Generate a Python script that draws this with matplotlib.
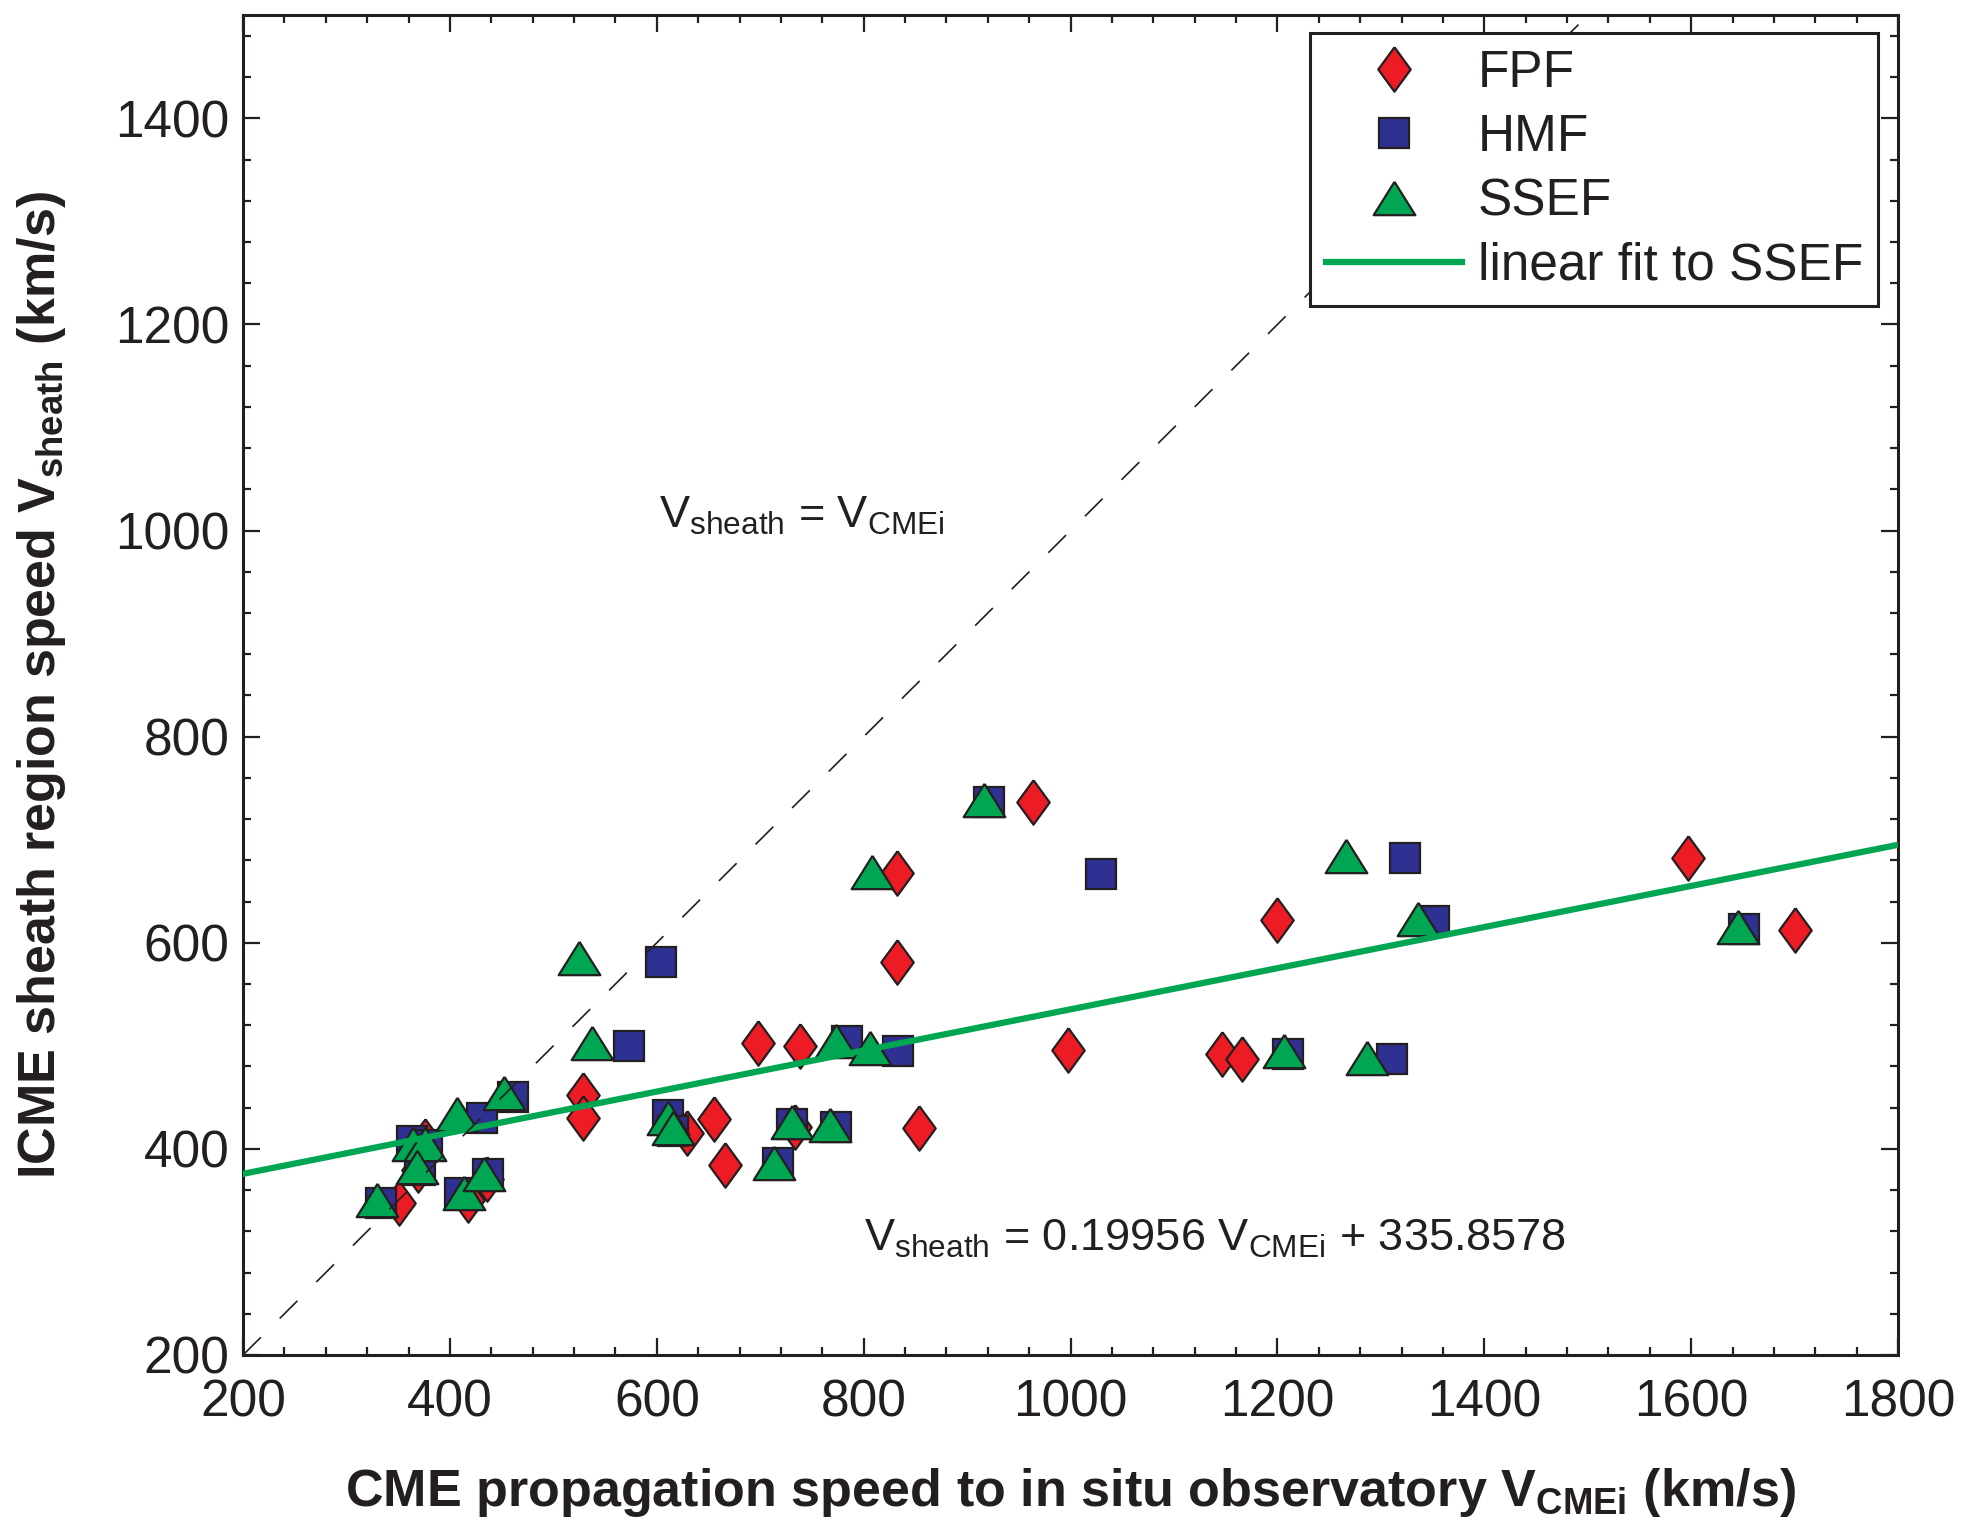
import numpy as np
import matplotlib
matplotlib.use('Agg')
from matplotlib import pyplot as plt
from matplotlib.ticker import MultipleLocator

plt.rcParams['font.family'] = ['Liberation Sans', 'DejaVu Sans']
plt.rcParams['mathtext.fontset'] = 'custom'
plt.rcParams['mathtext.rm'] = 'Liberation Sans'
plt.rcParams['mathtext.it'] = 'Liberation Sans'
plt.rcParams['mathtext.bf'] = 'Liberation Sans:bold'

# FPF (x = V_CMEi, y = V_sheath), km/s
fpf_x = [351, 369, 376, 417, 436, 529, 529, 629, 655, 666, 698, 734, 738,
         832, 832, 853, 964, 998, 1146, 1166, 1200, 1597, 1700]
fpf_y = [347, 379, 408, 350, 371, 452, 430, 415, 429, 384, 503, 421, 500,
         668, 581, 420, 737, 496, 492, 487, 622, 682, 612]

# HMF
hmf_x = [333, 363, 378, 371, 410, 431, 437, 461, 573, 604, 611, 616, 717,
         731, 773, 784, 833, 921, 1029, 1210, 1311, 1323, 1351, 1651]
hmf_y = [347, 408, 404, 379, 357, 430, 376, 450, 500, 581, 433, 417, 386,
         424, 421, 505, 495, 737, 667, 492, 487, 682, 621, 613]

# SSEF
ssef_x = [329, 364, 376, 368, 407, 452, 414, 433, 525, 537, 611, 616, 713,
          731, 767, 773, 806, 808, 916, 1206, 1266, 1287, 1336, 1645]
ssef_y = [350, 405, 405, 382, 434, 454, 357, 376, 585, 503, 430, 420, 386,
          426, 423, 505, 498, 669, 739, 495, 684, 488, 623, 615]

# linear fit to SSEF (coefficients from the figure)
fit_coef = [0.19956, 335.8578]

red = '#ED1C24'
blue = '#2E3192'
green = '#00A651'
edge = '#231F20'

diamond = [(0, 1), (0.73, 0), (0, -1), (-0.73, 0), (0, 1)]
triangle = [(0, 0.8), (1, -0.8), (-1, -0.8), (0, 0.8)]

fig = plt.figure(figsize=(19.62, 15.35), dpi=100)
ax = fig.add_axes([0.1239, 0.1173, 0.8435, 0.8727])

ax.plot(fpf_x, fpf_y, linestyle='none', marker=diamond, markersize=32,
        markerfacecolor=red, markeredgecolor=edge, markeredgewidth=1.6,
        label='FPF', zorder=3)
ax.plot(hmf_x, hmf_y, linestyle='none', marker='s', markersize=21,
        markerfacecolor=blue, markeredgecolor=edge, markeredgewidth=1.6,
        label='HMF', zorder=4)
ax.plot(ssef_x, ssef_y, linestyle='none', marker=triangle, markersize=30,
        markerfacecolor=green, markeredgecolor=edge, markeredgewidth=1.6,
        label='SSEF', zorder=5)

xs = np.array([200, 1800])
ax.plot(xs, np.polyval(fit_coef, xs), color=green, linewidth=4.5,
        label='linear fit to SSEF', zorder=6)
ax.plot([200, 1500], [200, 1500], color=edge, linewidth=1.2,
        dashes=(15, 16), zorder=6)

ax.text(602, 1003, r'V$_{\mathrm{sheath}}$ = V$_{\mathrm{CMEi}}$',
        fontsize=32.5, color=edge)
ax.text(800, 301, r'V$_{\mathrm{sheath}}$ = 0.19956 V$_{\mathrm{CMEi}}$ + 335.8578',
        fontsize=32.5, color=edge)

ax.set_xlim(200, 1800)
ax.set_ylim(200, 1500)
ax.set_xticks(range(200, 1801, 200))
ax.set_yticks(range(200, 1401, 200))
ax.xaxis.set_minor_locator(MultipleLocator(40))
ax.yaxis.set_minor_locator(MultipleLocator(40))
ax.tick_params(which='both', direction='in', top=True, right=True,
               width=1.6, color=edge, labelcolor=edge, labelsize=37)
ax.tick_params(which='major', length=12)
ax.tick_params(which='minor', length=6)
ax.tick_params(axis='x', pad=17)
ax.tick_params(axis='y', pad=10)
for s in ax.spines.values():
    s.set_linewidth(2.2)
    s.set_color(edge)

ax.set_xlabel(r'CME propagation speed to in situ observatory V$_{\mathbf{CMEi}}$ (km/s)',
              fontsize=37.5, fontweight='bold', color=edge, labelpad=28)
ax.set_ylabel(r'ICME sheath region speed V$_{\mathbf{sheath}}$ (km/s)',
              fontsize=37.5, fontweight='bold', color=edge, labelpad=34)

leg = ax.legend(loc='upper right', bbox_to_anchor=(0.988, 0.9866),
                borderaxespad=0, fontsize=37, frameon=True, fancybox=False,
                framealpha=1, edgecolor=edge, handlelength=2.65,
                handletextpad=0.3, labelspacing=0.3, borderpad=0.3,
                markerscale=1.0)
leg.get_frame().set_linewidth(2.2)
leg.set_zorder(10)
for t in leg.get_texts():
    t.set_color(edge)

fig.savefig('out.png', dpi=100)
